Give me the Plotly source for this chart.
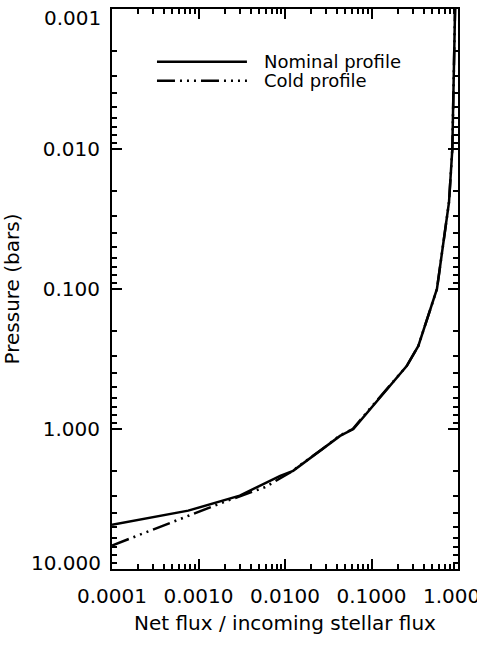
import math
import plotly.graph_objects as go

# Nominal profile (net flux / incoming stellar flux vs pressure in bars)
flux_nominal = [0.0001, 0.00076, 0.0030, 0.0088, 0.0124, 0.0149, 0.0277, 0.0433, 0.0617,
                0.096, 0.164, 0.255, 0.348, 0.571, 0.787, 0.859, 0.925]
pres_nominal = [4.84, 3.83, 2.99, 2.16, 1.99, 1.83, 1.39, 1.12, 1.0,
                0.72, 0.49, 0.355, 0.255, 0.1, 0.024, 0.0101, 0.001]

# Cold profile
flux_cold = [0.0001, 0.0005, 0.0020, 0.0059, 0.0124, 0.0146, 0.0271, 0.0425, 0.0607,
             0.095, 0.163, 0.255, 0.348, 0.571, 0.787, 0.859, 0.925]
pres_cold = [6.8, 4.61, 3.31, 2.60, 1.99, 1.83, 1.39, 1.12, 1.0,
             0.72, 0.49, 0.355, 0.255, 0.1, 0.024, 0.0101, 0.001]

x_tickvals = [0.0001, 0.001, 0.01, 0.1, 1.0]
x_ticktext = ["0.0001", "0.0010", "0.0100", "0.1000", "1.0000"]
y_tickvals = [0.001, 0.01, 0.1, 1.0, 10.0]
y_ticktext = ["0.001", "0.010", "0.100", "1.000", "10.000"]

legend_names = ["Nominal profile", "Cold profile"]
cold_dash = "18px,5px,2px,5px,2px,5px,2px,5px"

FONT = "DejaVu Sans"
TICKSIZE = 20


def minor_log_ticks(decades):
    return [m * d for d in decades for m in range(2, 10)]


x_minor = minor_log_ticks(x_tickvals[:-1])
y_minor = minor_log_ticks(y_tickvals[:-1])

fig = go.Figure()
fig.add_trace(go.Scatter(x=flux_nominal, y=pres_nominal, mode="lines",
                         line=dict(color="black", width=2.5), name=legend_names[0],
                         showlegend=False))
fig.add_trace(go.Scatter(x=flux_cold, y=pres_cold, mode="lines",
                         line=dict(color="black", width=2.5, dash=cold_dash),
                         name=legend_names[1], showlegend=False))

# Manual legend (IDL-style long sample lines)
leg_x0, leg_x1, leg_tx = 0.130, 0.390, 0.436
leg_y = [0.906, 0.872]
dashes = ["solid", cold_dash]
for name, yy, dsh in zip(legend_names, leg_y, dashes):
    fig.add_shape(type="line", xref="paper", yref="paper", x0=leg_x0, x1=leg_x1,
                  y0=yy, y1=yy, line=dict(color="black", width=2.5, dash=dsh))
    fig.add_annotation(xref="paper", yref="paper", x=leg_tx, y=yy, text=name,
                       showarrow=False, xanchor="left", yanchor="middle", borderpad=0,
                       font=dict(family=FONT, size=18, color="black"))

# The end labels of the pressure axis sit inside the frame (as in the original)
y_shown = ["" if i in (0, len(y_ticktext) - 1) else t for i, t in enumerate(y_ticktext)]
end_shifts = {0: -9, len(y_ticktext) - 1: 6}
for i, shift in end_shifts.items():
    fig.add_annotation(xref="paper", yref="y", x=0, y=math.log10(y_tickvals[i]),
                       text=y_ticktext[i], showarrow=False, xanchor="right",
                       yanchor="middle", xshift=-10, yshift=shift, borderpad=0,
                       font=dict(family=FONT, size=TICKSIZE, color="black"))

common = dict(
    showline=True, linecolor="black", linewidth=2, mirror="allticks",
    ticks="inside", ticklen=10, tickwidth=1.5, tickcolor="black",
    showgrid=False, zeroline=False, ticklabeloverflow="allow", automargin=False,
    tickmode="array",
    tickfont=dict(family=FONT, size=TICKSIZE, color="black"),
)
minor_common = dict(
    showline=True, linecolor="black", linewidth=2, mirror="allticks",
    ticks="inside", ticklen=5, tickwidth=1.5, tickcolor="black",
    showgrid=False, zeroline=False, automargin=False, showticklabels=False,
    tickmode="array",
)

fig.update_layout(
    xaxis=dict(type="log", range=[-4, 0], tickvals=x_tickvals, ticktext=x_ticktext,
               title=dict(text="Net flux / incoming stellar flux",
                          font=dict(family=FONT, size=20, color="black"), standoff=9),
               ticklabelstandoff=8, **common),
    yaxis=dict(type="log", range=[1, -3], tickvals=y_tickvals, ticktext=y_shown,
               title=dict(text="Pressure (bars)",
                          font=dict(family=FONT, size=20, color="black"), standoff=19),
               ticklabelstandoff=6, **common),
    xaxis2=dict(type="log", range=[-4, 0], overlaying="x", anchor="y", side="bottom",
                tickvals=x_minor, **minor_common),
    yaxis2=dict(type="log", range=[1, -3], overlaying="y", anchor="x", side="left",
                tickvals=y_minor, **minor_common),
)
# invisible helper trace so the minor-tick axes are laid out
fig.add_trace(go.Scatter(x=[x_tickvals[0]], y=[y_tickvals[0]], xaxis="x2", yaxis="y2",
                         mode="markers", marker=dict(opacity=0), showlegend=False,
                         hoverinfo="skip"))

fig.update_layout(width=477, height=650, margin=dict(l=112, r=19, t=9, b=81),
                  plot_bgcolor="white", paper_bgcolor="white", showlegend=False)

fig.write_html("out.html")
